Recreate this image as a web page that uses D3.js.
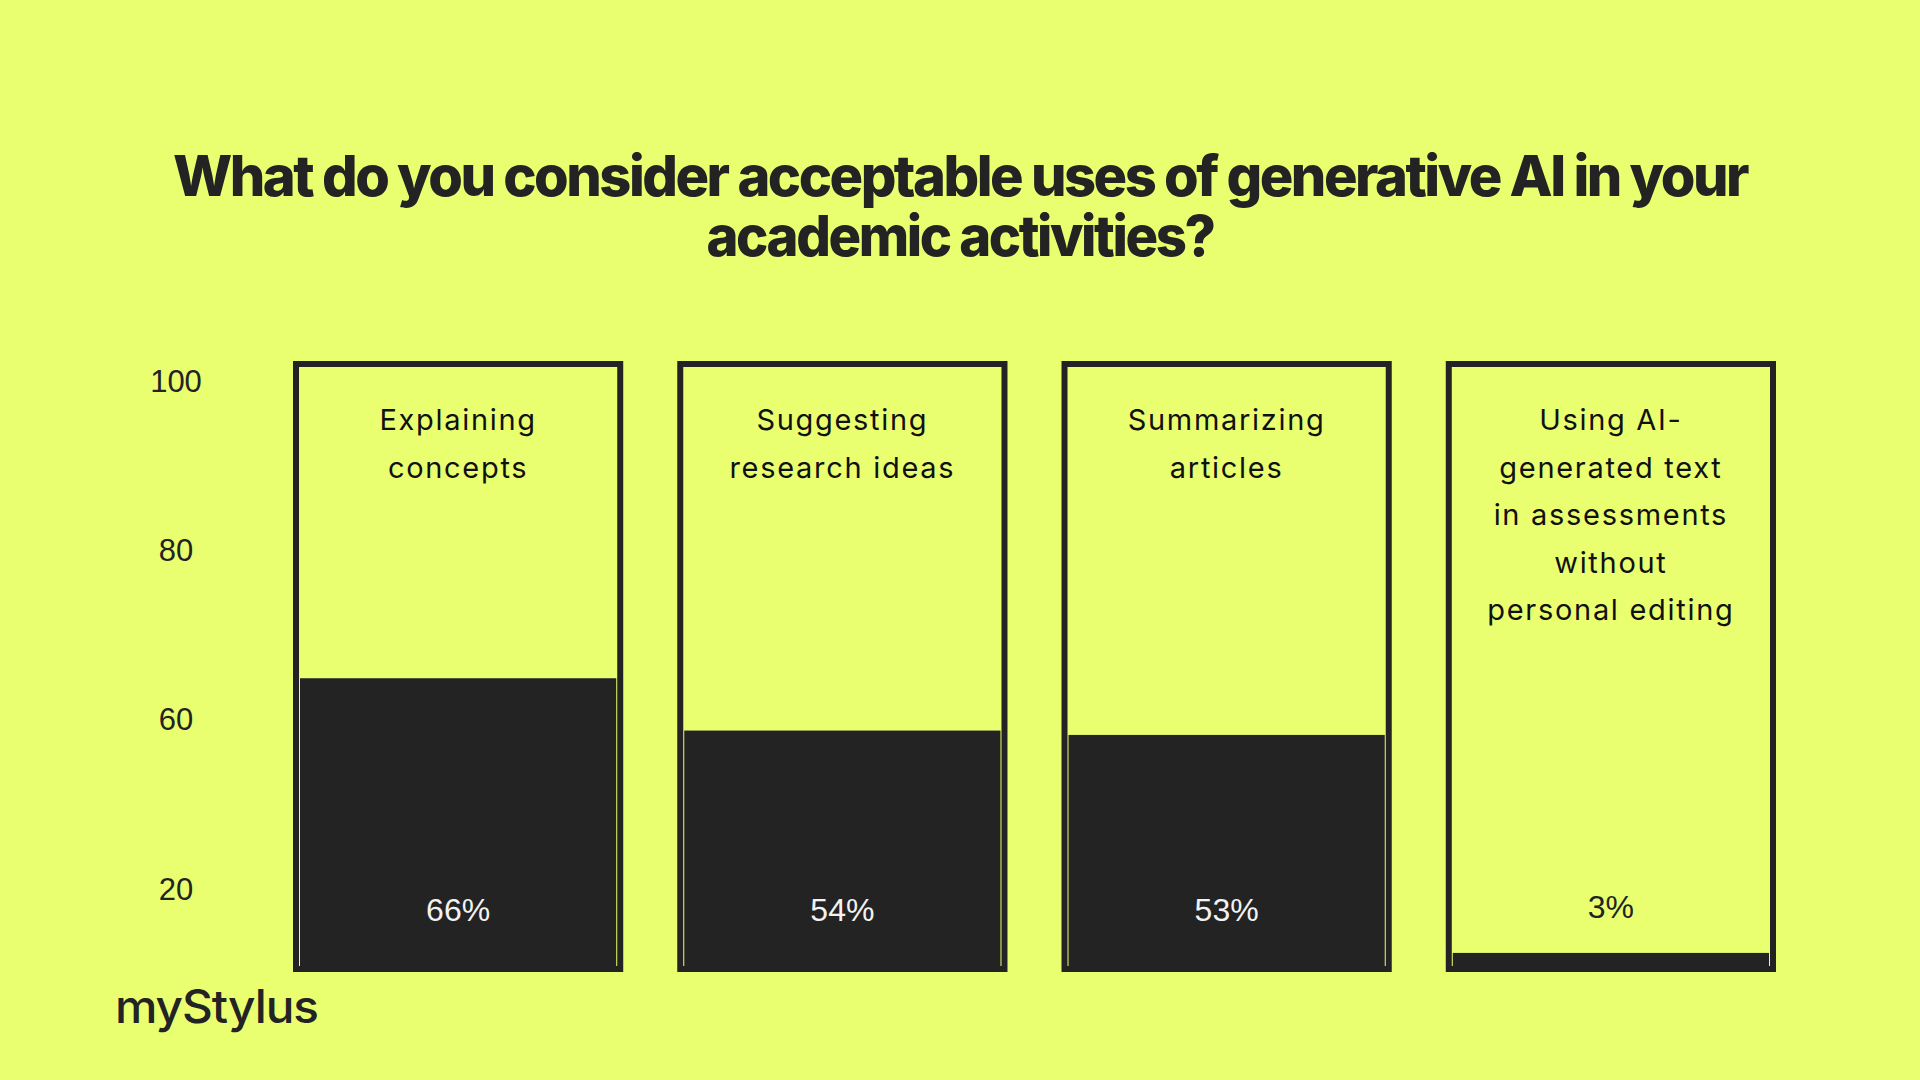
<!DOCTYPE html>
<html>
<head>
<meta charset="utf-8">
<script src="https://cdn.jsdelivr.net/npm/d3@7"></script>
<style>
  body { margin: 0; background: #e9ff70; }
  svg { display: block; }
</style>
</head>
<body>
<div id="chart-area"></div>
<script>
// data
const categories = ['Explaining concepts', 'Suggesting research ideas', 'Summarizing articles', 'Using AI-generated text in assessments without personal editing']
const categoryLines = [
  ['Explaining', 'concepts'],
  ['Suggesting', 'research ideas'],
  ['Summarizing', 'articles'],
  ['Using AI-', 'generated text', 'in assessments', 'without', 'personal editing']
]
const values = [66, 54, 53, 3]
const tickLabels = ['100', '80', '60', '20']
const titleLines = ['What do you consider acceptable uses of generative AI in your', 'academic activities?']

const width = 1920
const height = 1080
const dark = '#232323'
const bg = '#e9ff70'

const svg = d3.select('#chart-area').append('svg')
  .attr('width', width)
  .attr('height', height)

svg.append('rect')
  .attr('width', width)
  .attr('height', height)
  .attr('fill', bg)

// title
svg.append('g')
  .selectAll('text')
  .data(titleLines)
  .enter().append('text')
    .attr('x', 960)
    .attr('y', (d, i) => 196 + i * 60)
    .attr('text-anchor', 'middle')
    .attr('font-family', 'Inter')
    .attr('font-weight', 800)
    .attr('font-size', 56)
    .attr('letter-spacing', -2.5)
    .attr('fill', dark)
    .attr('textLength', (d, i) => i === 0 ? 1574 : 507)
    .attr('lengthAdjust', 'spacingAndGlyphs')
    .text(d => d)

// scales
const x = d3.scaleBand()
  .domain(categories)
  .range([293, 1776])
  .paddingInner(54 / 384)
  .paddingOuter(0)

const y = d3.scaleLinear()
  .domain([0, 100])
  .range([966, 530])

const yTicks = d3.scalePoint()
  .domain(tickLabels)
  .range([380, 888])

// y axis
const yAxis = svg.append('g')
  .attr('transform', 'translate(176,0)')
  .call(d3.axisLeft(yTicks).tickSize(0))
yAxis.select('.domain').remove()
yAxis.selectAll('text')
  .attr('x', 0)
  .attr('dy', '0.36em')
  .attr('text-anchor', 'middle')
  .attr('font-family', 'Liberation Sans')
  .attr('font-size', 31)
  .attr('fill', dark)

// columns
const col = svg.append('g')
  .selectAll('g')
  .data(categories)
  .enter().append('g')
    .attr('transform', d => `translate(${x(d)},0)`)

col.append('rect')
  .attr('x', 7)
  .attr('width', x.bandwidth() - 14)
  .attr('y', (d, i) => y(values[i]))
  .attr('height', (d, i) => y(0) - y(values[i]) + 4)
  .attr('fill', dark)

col.append('rect')
  .attr('x', 3)
  .attr('y', 364)
  .attr('width', x.bandwidth() - 6)
  .attr('height', 605)
  .attr('fill', 'none')
  .attr('stroke', dark)
  .attr('stroke-width', 6)

col.append('text')
  .attr('text-anchor', 'middle')
  .attr('font-family', 'Inter')
  .attr('font-size', 29)
  .attr('letter-spacing', 1.7)
  .attr('fill', '#111')
  .selectAll('tspan')
  .data((d, i) => categoryLines[i])
  .enter().append('tspan')
    .attr('x', x.bandwidth() / 2)
    .attr('y', (d, i) => 430 + i * 47.5)
    .text(d => d)

col.append('text')
  .attr('x', x.bandwidth() / 2)
  .attr('y', (d, i) => y(values[i]) < 890 ? 921 : 918)
  .attr('text-anchor', 'middle')
  .attr('font-family', 'Liberation Sans')
  .attr('font-size', 32)
  .attr('fill', (d, i) => y(values[i]) < 890 ? '#f2f2f2' : dark)
  .text((d, i) => values[i] + '%')

// logo
svg.append('text')
  .attr('x', 115)
  .attr('y', 1023)
  .attr('font-family', 'Inter')
  .attr('font-weight', 500)
  .attr('font-size', 46)
  .attr('letter-spacing', -1)
  .attr('fill', dark)
  .attr('textLength', 203)
  .attr('lengthAdjust', 'spacingAndGlyphs')
  .text('myStylus')
</script>
</body>
</html>
